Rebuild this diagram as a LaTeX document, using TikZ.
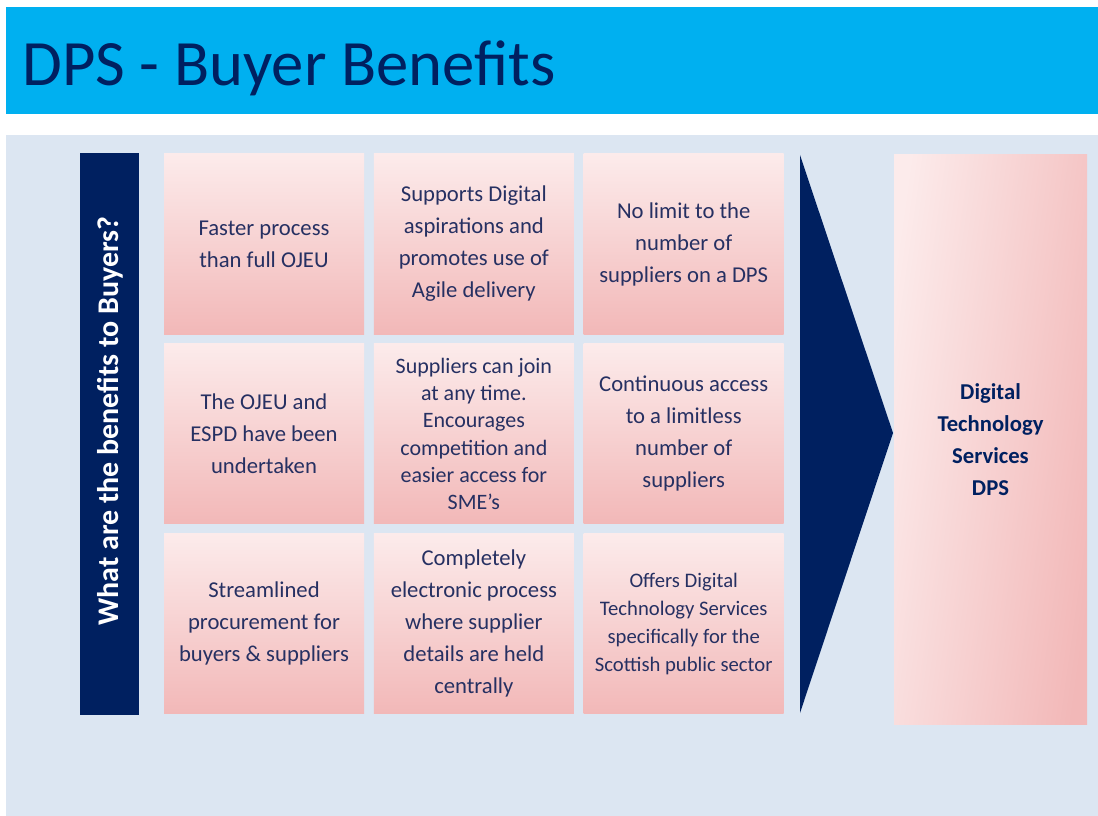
\documentclass[tikz,border=0pt]{standalone}
\usepackage{fontspec}
\setmainfont{Carlito}
\usetikzlibrary{positioning}

\definecolor{titlebar}{RGB}{0,176,240}
\definecolor{panel}{RGB}{220,230,242}
\definecolor{navy}{RGB}{0,32,96}
\definecolor{celltop}{RGB}{252,235,235}
\definecolor{cellbot}{RGB}{242,184,184}
\definecolor{celltext}{RGB}{38,48,98}

\tikzset{
  benefit/.style={minimum width=150pt, minimum height=135pt, inner sep=0pt,
    top color=celltop, bottom color=cellbot, text=celltext, align=center,
    font=\fontsize{17}{24}\selectfont},
  dense/.style={font=\fontsize{16.5}{20.5}\selectfont}
}

\begin{document}
\begin{tikzpicture}[x=0.75pt, y=-0.75pt, node distance=7pt and 7pt]
    \useasboundingbox (0,0) rectangle (1098,816);

    \fill[titlebar] (6,7) rectangle (1098,114);
    \fill[panel] (6,135) rectangle (1098,816);
    \node[anchor=base west, inner sep=0pt, text=navy, font=\fontsize{48.5}{58}\selectfont] (title) at (22,86) {DPS - Buyer Benefits};

    \node[fill=navy, minimum width=44.25pt, minimum height=421.5pt, inner sep=0pt] (bar) at (109.5,434) {};
    \node[rotate=90, text=white, font=\bfseries\fontsize{22.5}{26}\selectfont] (ask) at (110,421) {What are the benefits to Buyers?};

    \node[benefit] (c11) at (264,244) {Faster process\\than full OJEU};
    \node[benefit, right=of c11] (c12) {Supports Digital\\aspirations and\\promotes use of\\Agile delivery};
    \node[benefit, right=of c12] (c13) {No limit to the\\number of\\suppliers on a DPS};
    \node[benefit, below=of c11] (c21) {The OJEU and\\ESPD have been\\undertaken};
    \node[benefit, dense, below=of c12] (c22) {Suppliers can join\\at any time.\\Encourages\\competition and\\easier access for\\SME’s};
    \node[benefit, below=of c13] (c23) {Continuous access\\to a limitless\\number of\\suppliers};
    \node[benefit, below=of c21] (c31) {Streamlined\\procurement for\\buyers \& suppliers};
    \node[benefit, below=of c22] (c32) {Completely\\electronic process\\where supplier\\details are held\\centrally};
    \node[benefit, font=\fontsize{15.5}{21}\selectfont, below=of c23] (c33) {Offers Digital\\Technology Services\\specifically for the\\Scottish public sector};

    \fill[navy] (800,155) -- (893,433) -- (800,713) -- cycle;

    \node[minimum width=144.75pt, minimum height=426.75pt, inner sep=0pt,
      left color=celltop, right color=cellbot, shading angle=82, text=navy, align=center,
      font=\bfseries\fontsize{17}{24}\selectfont] (dps) at (990.5,439.5) {Digital\\Technology\\Services\\DPS};
\end{tikzpicture}
\end{document}
